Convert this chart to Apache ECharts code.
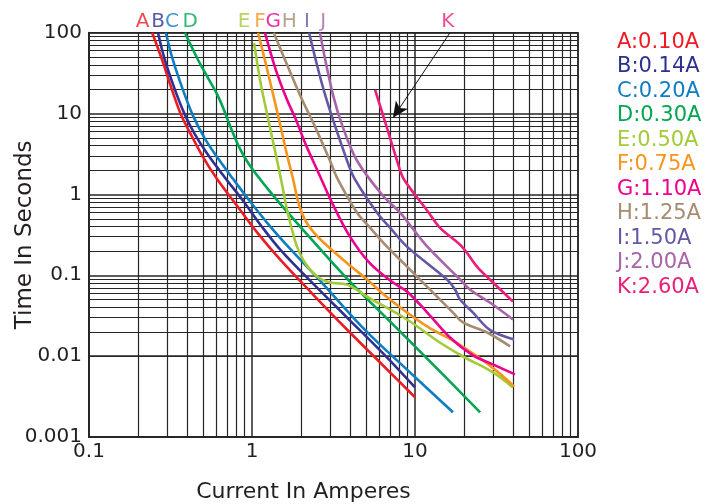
<!DOCTYPE html>
<html>
<head>
<meta charset="utf-8">
<script src="https://cdn.jsdelivr.net/npm/echarts@6/dist/echarts.min.js"></script>
<style>
  html, body { margin: 0; padding: 0; background: #fff; }
  #chart { width: 705px; height: 504px; }
</style>
</head>
<body>
<div id="chart"></div>
<script>
// fuse names and colours
var names = ['A:0.10A', 'B:0.14A', 'C:0.20A', 'D:0.30A', 'E:0.50A', 'F:0.75A',
             'G:1.10A', 'H:1.25A', 'I:1.50A', 'J:2.00A', 'K:2.60A'];
var letters = ['A', 'B', 'C', 'D', 'E', 'F', 'G', 'H', 'I', 'J', 'K'];
var colors = ['#ED1C24', '#2E3192', '#0F7DC2', '#00A651', '#A2CB3A', '#F7941D',
              '#EC008C', '#A68C70', '#6656A6', '#A864A8', '#EC1E79'];
// where the letter above each curve sits (current, A)
var letterX = [0.213, 0.265, 0.323, 0.417, 0.893, 1.12, 1.35, 1.69, 2.17, 2.73, 15.9];

// curves: [current A, time s]
var curveA = [[0.244,100],[0.281,46.0],[0.323,19.6],[0.367,9.64],[0.423,5.46],[0.5,2.92],
              [0.609,1.56],[0.809,0.724],[1.09,0.327],[1.49,0.156],[2.37,0.0578],
              [3.72,0.0226],[6.37,0.00767],[10.0,0.0031]];
var curveB = [[0.265,100],[0.292,46.0],[0.337,19.6],[0.383,10.2],[0.441,5.78],[0.537,3.09],
              [0.683,1.61],[0.881,0.836],[1.15,0.399],[1.49,0.208],[2.37,0.0788],
              [3.83,0.03],[6.37,0.0108],[10.0,0.0041]];
var curveC = [[0.296,100],[0.327,46.0],[0.377,19.6],[0.435,9.37],[0.515,4.87],[0.628,2.68],
              [0.764,1.56],[0.944,0.885],[1.25,0.435],[1.71,0.213],[2.58,0.0886],
              [4.93,0.0211],[9.31,0.0063],[17.1,0.00202]];
var curveD = [[0.388,100],[0.467,46.0],[0.537,27.6],[0.609,17.5],[0.673,11.1],[0.733,7.05],
              [0.844,3.66],[0.972,2.26],[1.25,1.17],[1.64,0.611],[2.51,0.232],[3.88,0.0886],
              [8.09,0.0202],[14.2,0.00648],[25.1,0.00202]];
var curveE = [[1.03,74.6],[1.12,26.1],[1.24,9.64],[1.38,3.56],[1.53,1.32],[1.64,0.647],
              [1.76,0.366],[1.89,0.226],[2.11,0.1436],[2.51,0.0964],[3.01,0.0813],
              [3.83,0.0767],[5.08,0.0546],[8.93,0.0284],[14.2,0.01476],[19.7,0.0099],
              [30.1,0.0063],[39.9,0.0041]];
var curveF = [[1.09,100],[1.22,39.9],[1.35,17.0],[1.49,7.25],[1.64,3.09],[1.79,1.52],
              [1.94,0.746],[2.11,0.488],[2.37,0.347],[2.88,0.233],[3.99,0.132],[5.08,0.0886],
              [6.55,0.0561],[8.93,0.0346],[12.4,0.022],[17.1,0.0156],[25.1,0.00938],
              [31.9,0.00648],[40.5,0.00423]];
var curveG = [[1.2,100],[1.4,34.7],[1.64,14.8],[1.84,8.85],[2.14,4.11],[2.54,1.91],
              [3.14,0.746],[3.99,0.301],[5.3,0.14],[7.33,0.0813],[8.93,0.063],[11.9,0.0346],
              [16.4,0.017],[22.7,0.0102],[30.1,0.0079],[41.0,0.00594]];
var curveH = [[1.36,100],[1.97,17.0],[2.44,6.85],[3.01,2.61],[3.37,1.52],[4.41,0.594],
              [5.3,0.388],[6.73,0.226],[8.93,0.128],[12.9,0.0611],[17.1,0.0346],
              [19.7,0.0261],[27.7,0.0196],[38.3,0.0132]];
var curveI = [[2.24,100],[2.81,17.0],[3.83,2.61],[4.29,1.52],[5.85,0.594],[7.03,0.388],
              [8.93,0.226],[15.7,0.0886],[17.6,0.0667],[18.9,0.0501],[22.7,0.0346],
              [28.8,0.0211],[40.5,0.0161]];
var curveJ = [[2.61,100],[3.14,17.0],[3.62,6.66],[4.41,2.61],[6.28,0.991],[8.09,0.594],
              [9.59,0.388],[11.9,0.226],[18.9,0.0886],[21.7,0.0667],[28.8,0.046],[39.9,0.0284]];
var curveK = [[5.69,19.6],[6.73,6.66],[7.76,2.61],[8.44,1.61],[10.0,0.991],[11.9,0.629],
              [14.2,0.388],[19.4,0.226],[24.0,0.128],[28.8,0.0886],[39.9,0.0473]];
var curves = [curveA, curveB, curveC, curveD, curveE, curveF, curveG, curveH, curveI, curveJ, curveK];

// arrow from the K letter to its curve
var arrowFrom = [16.4, 100];
var arrowTo = [7.33, 8.85];

var FONT = 'DejaVu Sans';
var GRIDC = '#262626';

// minor grid lines at 2..9 of each decade
var minorX = [], minorY = [];
[0.1, 1, 10].forEach(function (d) {
    for (var k = 2; k <= 9; k++) minorX.push({ xAxis: +(k * d).toPrecision(3) });
});
[0.001, 0.01, 0.1, 1, 10].forEach(function (d) {
    for (var k = 2; k <= 9; k++) minorY.push({ yAxis: +(k * d).toPrecision(3) });
});

function fmt(v) { return String(+(+v).toPrecision(3)); }

var myChart = echarts.init(document.getElementById('chart'));

var series = curves.map(function (c, i) {
    return {
        name: names[i],
        type: 'line',
        data: c,
        showSymbol: false,
        smooth: 0.35,
        z: 3,
        lineStyle: { color: colors[i], width: 2.6 },
        itemStyle: { color: colors[i] }
    };
});

// minor grid drawn as mark lines under the curves
series[0].markLine = {
    silent: true,
    z: 1,
    symbol: ['none', 'none'],
    label: { show: false },
    animation: false,
    lineStyle: { color: GRIDC, width: 1.2, type: 'solid' },
    emphasis: { disabled: true },
    data: minorX.concat(minorY)
};

// K arrow
series[10].markLine = {
    silent: true,
    symbol: ['none', 'arrow'],
    symbolSize: [11, 16],
    label: { show: false },
    animation: false,
    lineStyle: { color: '#111', width: 1, type: 'solid' },
    emphasis: { disabled: true },
    data: [[{ coord: arrowFrom }, { coord: arrowTo }]]
};

// letters above the plot
series.push({
    name: 'letters',
    type: 'scatter',
    symbolSize: 0,
    silent: true,
    data: letterX.map(function (x, i) {
        return {
            value: [x, 100],
            label: { formatter: letters[i], color: colors[i] }
        };
    }),
    label: {
        show: true,
        position: 'top',
        distance: 1,
        fontFamily: FONT,
        fontSize: 20
    }
});

var option = {
    animation: false,
    backgroundColor: '#fff',
    grid: {
        left: 89, right: 127, top: 32.7, bottom: 67,
        show: true, borderColor: GRIDC, borderWidth: 1.5,
        containLabel: false,
        outerBoundsMode: 'none'
    },
    legend: {
        orient: 'vertical',
        left: 607,
        top: 27,
        icon: 'none',
        itemWidth: 0,
        itemHeight: 0,
        itemTextGap: 0,
        itemGap: 3.5,
        selectedMode: false,
        textStyle: { fontFamily: FONT, fontSize: 21 },
        data: names.map(function (n, i) {
            return { name: n, textStyle: { color: colors[i] } };
        })
    },
    xAxis: {
        type: 'log',
        logBase: 10,
        min: 0.1,
        max: 100,
        name: 'Current In Amperes',
        nameLocation: 'middle',
        nameGap: 44,
        nameMoveOverlap: false,
        nameTextStyle: { fontFamily: FONT, fontSize: 22, color: '#231F20', padding: [0, 60, 0, 0] },
        axisLine: { show: true, lineStyle: { color: GRIDC, width: 2 } },
        axisTick: { show: false },
        axisLabel: { fontFamily: FONT, fontSize: 20, color: '#231F20', margin: 5, formatter: fmt },
        splitLine: { show: true, lineStyle: { color: GRIDC, width: 1.5 } }
    },
    yAxis: {
        type: 'log',
        logBase: 10,
        min: 0.001,
        max: 100,
        name: 'Time In Seconds',
        nameLocation: 'middle',
        nameGap: 52,
        nameMoveOverlap: false,
        nameTextStyle: { fontFamily: FONT, fontSize: 23, color: '#231F20' },
        axisLine: { show: true, lineStyle: { color: GRIDC, width: 2 } },
        axisTick: { show: false },
        axisLabel: { fontFamily: FONT, fontSize: 20, color: '#231F20', margin: 7, formatter: fmt },
        splitLine: { show: true, lineStyle: { color: GRIDC, width: 1.5 } }
    },
    series: series
};

myChart.setOption(option);
</script>
</body>
</html>
